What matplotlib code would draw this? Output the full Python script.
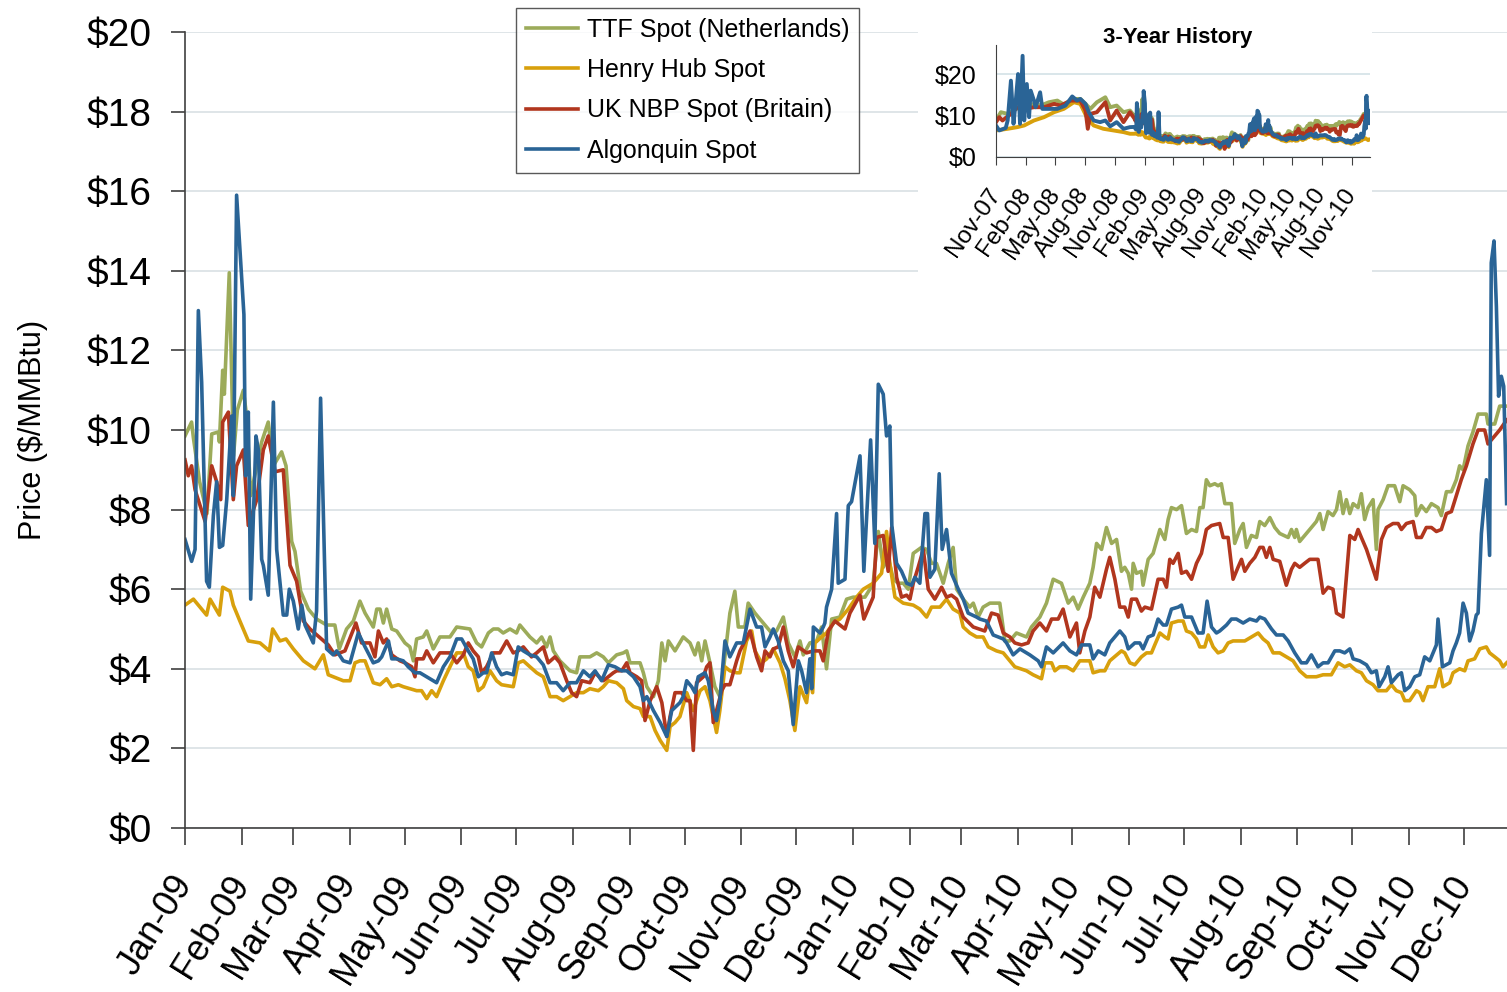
#natural gas spot prices, 2009-2010 with 3-year inset
import numpy as np
import matplotlib
matplotlib.use("Agg")
import matplotlib.pyplot as plt
import matplotlib.dates as mdates
from matplotlib.patches import Rectangle

plt.rcParams['font.family'] = ['Liberation Sans', 'DejaVu Sans']

# (days since 2009-01-01, $/MMBtu)
ttf_spot = [(0,9.85),(3.6,10.2),(4.6,9.8),(8,8.7),(12,7.9),(14.6,9.9),(18.2,9.95),(18.8,9.7),(20.6,11.5),(21.5,10.9),(24.2,13.95),(26.5,9.35),(28.6,10.5),(31.9,11.0),(33.7,10.35),(35.9,8.35),(41.9,9.7),(45.5,10.2),(48.3,9.1),(52.8,9.45),(55.2,9.1),(58.3,7.2),(60.1,6.95),(63.2,5.95),(67.4,5.5),(71.9,5.25),(77.4,5.1),(81.9,5.1),(84.3,4.5),(88.3,5.0),(92,5.2),(95.6,5.7),(98.4,5.4),(102.9,5.05),(104.8,5.5),(106.6,5.5),(108.4,5.15),(110.2,5.5),(113,5.0),(115.7,4.95),(120.2,4.65),(122.9,4.55),(124.8,4.2),(126.6,4.75),(130.2,4.8),(132.1,4.95),(135.7,4.5),(139.3,4.8),(144.8,4.8),(148.5,5.05),(155.7,5.0),(159.4,4.65),(162.1,4.55),(165.8,4.9),(168.5,5.0),(171.2,5.0),(173.9,4.9),(177.6,5.0),(181.2,4.9),(183,5.1),(188.5,4.8),(192.2,4.65),(194.9,4.8),(197.6,4.55),(199.5,4.8),(201.3,4.45),(204.9,4.2),(210.4,3.95),(214,3.9),(215.8,4.3),(221.3,4.3),(225,4.4),(228.6,4.3),(231.4,4.15),(235.9,4.35),(239.6,4.4),(241.4,4.45),(243.2,4.15),(248.7,4.15),(250.5,3.9),(252.4,3.55),(256,3.3),(258.7,3.7),(260.6,4.65),(262.4,4.2),(264.2,4.7),(267.8,4.45),(272.3,4.8),(276,4.65),(278.7,4.35),(280.5,4.65),(282.4,4.2),(284.2,4.7),(286.9,4.15),(289.6,3.55),(292.3,3.3),(294.2,3.95),(297.8,5.4),(300.5,5.95),(302.4,5.05),(306,5.05),(307.8,5.65),(311.5,5.4),(314.2,5.25),(317.9,5.05),(320.6,4.9),(323.3,4.95),(327,5.3),(329.7,4.65),(333.3,4.3),(336.1,4.7),(337.9,4.35),(341.5,4.65),(345.2,4.7),(347.9,5.05),(350.6,4.0),(353.4,5.25),(357.9,5.3),(361.6,5.75),(365.2,5.8),(371.6,5.8),(374.3,6.0),(376.1,6.15),(378.9,7.45),(381.6,6.55),(384.3,6.8),(387.1,6.25),(389.8,6.15),(392.5,6.15),(395.3,6.0),(398,6.9),(402.5,7.05),(405.3,7.0),(408,6.65),(410.7,6.65),(414.4,6.15),(417.1,6.65),(419.8,7.05),(421.7,6.0),(425.3,5.75),(428.9,5.55),(430.8,5.65),(433.5,5.3),(436.2,5.55),(439.9,5.65),(445.3,5.65),(448.1,4.7),(450.8,4.7),(454.4,4.9),(459.9,4.8),(462.6,5.05),(467.2,5.3),(470.8,5.65),(474.5,6.25),(479,6.15),(482.7,5.65),(485.4,5.8),(488.1,5.5),(490.9,5.8),(494.5,6.15),(496.3,6.55),(498.2,7.15),(500.9,7.0),(503.6,7.55),(506.4,7.15),(509.1,7.25),(511.8,6.45),(513.6,6.55),(515.5,6.4),(517.3,6.0),(518.2,6.65),(520,6.4),(522.7,6.45),(523.6,6.1),(526.4,6.75),(529.1,6.9),(532.8,7.5),(535.5,7.25),(537.3,7.75),(539.1,8.05),(541.9,8.0),(544.6,8.1),(547.3,7.4),(550.1,7.5),(552.8,7.45),(554.6,8.05),(556.4,8.05),(558.2,8.75),(560.1,8.6),(562.8,8.65),(564.6,8.6),(566.4,8.65),(568.3,8.15),(571.9,8.15),(573.7,7.15),(576.5,7.5),(578.3,7.65),(580.1,7.05),(582.8,7.35),(585.6,7.3),(587.4,7.7),(590.1,7.6),(592.9,7.8),(595.6,7.55),(598.3,7.4),(602.9,7.3),(604.7,7.5),(606.5,7.3),(607.4,7.5),(609.2,7.2),(612.9,7.4),(615.6,7.55),(618.3,7.7),(620.2,7.9),(622,7.5),(624.7,7.95),(627.4,7.85),(629.3,8.0),(631.1,8.45),(632.9,7.9),(634.7,8.25),(636.6,7.9),(638.4,8.15),(641.1,8.05),(642.9,8.4),(644.7,7.75),(646.6,8.05),(649.3,8.25),(651.1,7.0),(652,8.0),(654.8,8.25),(657.5,8.6),(661.1,8.6),(663.9,8.2),(665.7,8.6),(669.3,8.5),(672.1,8.35),(673,7.85),(675.7,8.1),(678.4,7.95),(681.2,8.15),(684.8,8.05),(686.6,7.85),(689.4,8.45),(692.1,8.45),(694.8,8.75),(696.6,9.1),(698.5,9.0),(701.2,9.6),(703.9,9.95),(706.7,10.4),(711.2,10.4),(712.1,10.15),(715.8,10.15),(718.5,10.6),(722.3,10.6)]

henry_hub = [(0,5.6),(4.6,5.75),(11.8,5.35),(13.7,5.75),(18.8,5.35),(20.6,6.05),(24.6,5.95),(26.4,5.6),(30,5.2),(34.6,4.7),(41,4.65),(46.1,4.45),(47.9,5.0),(51.9,4.7),(55.2,4.75),(59.2,4.5),(64.7,4.2),(71,4.0),(75.6,4.35),(78.3,3.85),(86.5,3.7),(90.2,3.7),(92.9,4.15),(95.6,4.2),(98.4,4.2),(102.9,3.65),(106.6,3.6),(110.2,3.75),(113,3.55),(116.6,3.6),(119.3,3.55),(122.9,3.5),(126.6,3.45),(129.3,3.45),(132.1,3.25),(134.8,3.45),(137.5,3.3),(141.2,3.7),(144.8,4.05),(148.5,4.4),(152.1,4.4),(154.8,4.05),(157.5,3.95),(160.3,3.45),(163,3.55),(166.7,3.95),(170.3,3.7),(173,3.6),(179.4,3.55),(182.1,4.15),(184.9,4.2),(188.5,4.05),(192.2,3.9),(195.8,3.8),(199.5,3.3),(203.1,3.3),(206.7,3.2),(210.4,3.3),(214,3.4),(217.7,3.4),(221.3,3.5),(225.9,3.45),(228.6,3.55),(231.4,3.7),(235.9,3.65),(239.6,3.5),(241.4,3.2),(245.1,3.05),(248.7,3.0),(250.5,2.8),(254.2,2.8),(256.9,2.45),(259.7,2.2),(263.3,1.95),(265.1,2.55),(267.8,2.65),(270.5,2.8),(274.2,3.4),(277.8,2.95),(279.6,3.2),(281.5,3.45),(284.2,3.55),(286.9,3.2),(288.7,2.8),(290.5,2.4),(292.3,2.95),(295.1,4.05),(297.8,3.95),(301.5,3.9),(303.3,3.9),(306.9,4.7),(309.7,4.95),(311.5,4.45),(315.1,4.15),(317.9,4.25),(321.5,4.5),(325.2,4.15),(327.9,3.75),(330.6,3.2),(333.3,2.45),(336.1,3.55),(339.7,3.15),(341.5,3.85),(343,3.4),(344.3,4.65),(347.9,4.8),(350.6,4.9),(354.3,5.15),(357.9,5.25),(362.5,5.5),(367,5.8),(370.7,6.0),(376.1,6.15),(380.7,6.4),(383.4,7.45),(385.2,6.65),(388,5.8),(392.5,5.65),(398,5.6),(401.6,5.5),(405.3,5.3),(408,5.55),(412.6,5.55),(416.2,5.75),(419.8,5.5),(423.5,5.4),(425.3,5.05),(428.9,4.9),(432.6,4.8),(436.2,4.8),(439,4.55),(443.5,4.45),(447.2,4.4),(450.8,4.2),(453.5,4.05),(459.9,3.95),(463.5,3.85),(468.1,3.75),(469.9,4.15),(473.6,4.15),(475.4,3.95),(478.1,4.05),(481.8,4.05),(485.4,3.95),(489,4.2),(494.5,4.2),(496.3,3.9),(500,3.95),(502.7,3.95),(505.4,4.2),(511.8,4.45),(513.6,4.4),(516.4,4.15),(519.1,4.1),(522.7,4.3),(525.5,4.4),(528.2,4.4),(530,4.6),(532.8,4.9),(535.5,4.8),(537.3,4.75),(539.1,5.15),(542.8,5.2),(545.5,5.2),(547.3,4.95),(550.1,4.9),(552.8,4.75),(554.6,4.55),(557.3,4.55),(559.2,4.85),(561.9,4.55),(564.6,4.4),(567.4,4.45),(570.1,4.65),(572.8,4.7),(575.5,4.7),(579.2,4.7),(582.8,4.8),(586.5,4.9),(589.2,4.75),(591.9,4.65),(594.7,4.4),(598.3,4.4),(601.9,4.3),(605.6,4.2),(609.2,3.95),(612.9,3.8),(618.3,3.8),(622,3.85),(626.5,3.85),(630.2,4.15),(633.8,4.05),(636.6,4.1),(640.2,3.95),(642.9,3.9),(645.7,3.7),(649.3,3.6),(652,3.45),(656.6,3.45),(659.3,3.6),(662,3.45),(664.8,3.4),(666.6,3.2),(669.3,3.2),(673,3.45),(674.8,3.4),(676.6,3.2),(679.3,3.55),(683,3.55),(685.7,4.0),(687.5,3.55),(691.2,3.65),(693,3.9),(696.6,4.0),(699.4,3.95),(701.2,4.2),(704.8,4.25),(707.6,4.5),(711.2,4.55),(713,4.4),(715.8,4.3),(718.5,4.2),(720.3,4.05),(722.3,4.15)]

uk_nbp = [(0,9.25),(1.8,8.85),(3.6,9.1),(5.5,8.5),(11,7.7),(14.6,9.1),(17.3,8.7),(19.5,8.25),(20.6,10.2),(23.7,10.45),(26.4,8.25),(28.2,9.1),(31.9,9.5),(34.6,7.6),(39.2,8.25),(42.8,9.5),(45.5,9.85),(49.2,8.95),(53.7,9.0),(57.4,6.6),(61,6.2),(64.7,5.2),(68.3,5.0),(78.3,4.6),(81.9,4.35),(87.4,4.45),(93.4,5.15),(96.5,4.65),(101.1,4.65),(103.8,4.3),(105.7,4.95),(108.4,4.65),(110.2,4.75),(113,4.35),(117.5,4.2),(120.2,4.15),(123.9,4.05),(125.7,3.8),(126.6,4.25),(130.2,4.25),(132.1,4.45),(135.7,4.15),(139.3,4.4),(144.8,4.4),(148.5,4.15),(152.1,4.35),(154.8,4.65),(157.5,4.45),(160.3,4.3),(162.1,3.9),(164.8,4.05),(168.5,4.4),(172.1,4.4),(175.8,4.7),(179.4,4.4),(182.1,4.45),(184.9,4.55),(189.4,4.3),(192.2,4.4),(195.8,4.55),(198.5,4.15),(202.2,4.3),(204.9,4.15),(208.6,3.7),(211.3,3.4),(214,3.3),(216.8,3.7),(221.3,3.65),(224.1,3.9),(228.6,3.7),(234.1,3.9),(235.9,3.95),(238.7,3.95),(241.4,4.15),(243.2,3.9),(246.9,3.8),(249.6,3.7),(251.4,2.7),(254.2,3.2),(257.8,3.55),(260.6,3.15),(263.3,2.3),(265.1,2.8),(267.8,3.4),(271.4,3.4),(274.2,3.2),(276,3.2),(277.8,1.95),(279.6,3.65),(283.3,3.8),(285.1,4.05),(286.9,4.15),(288.7,2.65),(290.5,2.95),(293.3,3.45),(295.1,3.6),(297.8,3.6),(301.5,4.2),(303.3,4.45),(308.8,4.95),(312.4,4.3),(315.1,3.95),(317,4.45),(319.7,4.3),(321.5,4.5),(324.2,4.55),(327,5.05),(329.7,4.45),(332.4,4.05),(335.2,4.55),(339.7,4.4),(343.4,4.45),(347,4.45),(348.8,4.2),(351.6,4.95),(355.2,5.2),(360.7,5.0),(363.4,5.4),(368.9,5.85),(371,5.25),(376.1,5.8),(378,7.3),(381.6,7.35),(384.3,6.45),(386.2,7.55),(388.9,6.3),(391.6,5.8),(394.4,5.85),(396.2,5.75),(398,6.15),(400.7,6.55),(403.5,7.0),(406.2,6.0),(409.8,5.75),(413.5,6.05),(416.2,5.8),(418.9,5.85),(421.7,5.75),(425.3,5.3),(430.8,5.05),(437.1,4.95),(440.8,5.4),(444.4,5.35),(447.2,4.9),(450.8,4.8),(453.5,4.65),(457.2,4.6),(460.8,4.65),(463.5,4.95),(467.2,5.15),(470.8,4.95),(473.6,5.25),(477.2,5.25),(479.9,5.5),(483.6,4.8),(487.2,5.15),(489,4.4),(491.8,4.95),(494.5,5.3),(497.2,6.05),(500,5.8),(503.6,6.5),(505.4,6.8),(508.2,6.25),(510.9,5.55),(513.6,5.55),(515.5,5.3),(517.3,5.75),(520,5.75),(522.7,5.45),(524.6,5.55),(528.2,5.5),(531.8,6.25),(534.6,6.25),(536.4,6.05),(538.2,6.75),(540,6.65),(542.8,6.9),(544.6,6.4),(547.3,6.45),(550.1,6.25),(552.8,6.65),(555.5,6.9),(558.2,7.5),(561,7.6),(565.5,7.65),(567.4,7.3),(570.1,7.3),(572.8,6.25),(575.5,6.55),(577.4,6.75),(579.2,6.45),(581.9,6.65),(584.7,6.8),(587.4,7.05),(589.2,7.05),(591,6.8),(592.9,7.05),(594.7,6.75),(598.3,6.7),(601.9,6.1),(604.7,6.5),(606.5,6.65),(609.2,6.55),(611.9,6.65),(614.7,6.75),(619.2,6.75),(622,5.9),(624.7,6.05),(627.4,6.0),(629.3,5.4),(632.9,5.3),(636.6,7.35),(639.3,7.25),(641.1,7.5),(642.9,7.3),(645.7,7.0),(649.3,6.5),(651.1,6.25),(653.9,7.25),(656.6,7.55),(660.2,7.65),(663,7.65),(664.8,7.5),(667.5,7.65),(671.2,7.7),(673,7.3),(675.7,7.3),(678.4,7.55),(681.2,7.55),(683.9,7.45),(686.6,7.5),(689.4,7.9),(692.1,7.95),(694.8,8.35),(697.5,8.75),(700.3,9.1),(703.9,9.65),(706.7,10.0),(710.3,10.0),(712.1,9.65),(715.8,9.85),(718.5,10.0),(722.3,10.25)]

algonquin = [(0,7.25),(3.6,6.7),(5.5,7.0),(7.3,13.0),(9.1,11.2),(11.8,6.2),(13.3,6.05),(15.5,7.85),(17.3,8.7),(18.8,7.05),(20.6,7.1),(22.8,8.25),(25.5,10.35),(26.4,8.35),(28.2,15.9),(32.2,12.9),(33.1,8.85),(34.6,10.45),(35.9,5.75),(38.8,9.85),(40.1,9.5),(41.9,6.75),(42.8,6.6),(45.5,5.85),(48.3,10.7),(50.1,7.0),(53.7,5.35),(55.6,5.35),(57,6.0),(59.2,5.7),(61.9,5.0),(63.8,5.6),(65.6,5.1),(70.1,4.65),(71.9,5.45),(74.1,10.8),(77.4,4.5),(81,4.35),(82.9,4.45),(86.5,4.2),(90.2,4.15),(94.7,4.9),(98.4,4.55),(102.9,4.15),(105.7,4.2),(107.5,4.3),(111.2,4.7),(113,4.25),(115.7,4.25),(119.3,4.2),(122,4.05),(125.7,3.9),(128.4,3.9),(133.9,3.75),(137.5,3.65),(141.2,4.05),(144.8,4.3),(148.5,4.75),(151.2,4.75),(154.8,4.45),(157.5,4.25),(160.3,3.8),(163,3.9),(164.8,3.9),(167.6,4.4),(170.3,4.05),(173,3.85),(175.8,3.9),(179.4,3.85),(182.1,4.55),(184.9,4.45),(188.5,4.35),(192.2,4.3),(195.8,4.1),(199.5,3.65),(203.1,3.65),(206.7,3.45),(210.4,3.65),(214,3.65),(217.7,3.95),(221.3,3.8),(224.1,3.95),(227.7,3.7),(231.4,4.1),(235,4.05),(238.7,3.95),(241.4,3.95),(245.1,3.8),(248.7,3.55),(250.5,3.2),(252.4,3.3),(256,2.95),(259.7,2.65),(263.3,2.3),(266,2.95),(270.5,3.15),(272.3,3.3),(274.2,3.7),(276.9,3.55),(278.7,3.4),(280.5,3.8),(284.2,3.9),(286,3.7),(288.7,2.95),(290.5,2.7),(292.3,3.2),(295.1,4.7),(297.8,4.3),(301.5,4.65),(305.1,4.65),(308.8,5.5),(312.4,5.05),(315.1,5.05),(317,4.55),(319.7,4.8),(321.5,5.0),(324.2,4.7),(327,4.2),(329.7,3.95),(332.4,2.6),(335.2,4.2),(337,3.95),(339.7,3.4),(341.5,4.25),(342.5,3.5),(343.4,5.05),(347,4.9),(348.8,5.05),(349.7,5.15),(350.6,5.55),(353.4,6.0),(356.1,7.9),(357,6.15),(360.7,6.25),(362.5,8.1),(364.3,8.2),(368.9,9.35),(371,6.45),(374.7,9.75),(377,7.15),(378.9,11.15),(381.6,10.9),(383.4,9.85),(385.2,10.1),(386.3,7.6),(388.9,6.65),(391.6,6.45),(394.4,6.15),(397.1,6.1),(398.9,6.3),(401.6,6.15),(404.4,7.9),(405.8,7.9),(407.1,6.3),(409.8,6.5),(412.2,8.9),(413.8,7.0),(416.2,7.5),(418.9,6.4),(422.6,6.0),(425.3,5.75),(428,5.4),(432.6,5.3),(434.4,5.25),(438,5.2),(441.7,4.85),(447.2,4.75),(449,4.65),(452.6,4.35),(456.3,4.5),(461.7,4.35),(466.3,4.2),(468.1,4.05),(470.8,4.55),(474.5,4.4),(479.9,4.65),(483.6,4.45),(487.2,4.35),(490,4.6),(494.5,4.6),(496.3,4.25),(499.1,4.45),(502.7,4.35),(505.4,4.65),(510.9,4.95),(513.6,4.8),(515.5,4.5),(519.1,4.65),(521.8,4.65),(523.6,4.5),(526.4,4.8),(529.1,4.85),(531.8,5.25),(534.6,5.1),(536.4,5.1),(539.1,5.5),(542.8,5.55),(544.6,5.6),(546.4,5.3),(550.1,5.3),(553.7,4.9),(556.4,4.9),(558.6,5.7),(561,5.05),(563.7,4.9),(565.5,4.95),(569.2,5.1),(571.9,5.25),(574.6,5.25),(578.3,5.15),(581.9,5.25),(585.6,5.2),(587.4,5.3),(590.1,5.25),(593.8,5.0),(596.5,4.85),(600.2,4.85),(602.9,4.7),(606.5,4.4),(610.1,4.15),(612.9,4.15),(615.6,4.35),(619.2,4.05),(622,4.15),(624.7,4.15),(628.4,4.45),(631.1,4.45),(633.8,4.4),(636.6,4.5),(638.4,4.25),(642,4.2),(645.7,4.1),(648.4,3.9),(651.1,3.95),(652.6,3.55),(655.7,3.8),(657.5,4.05),(659.3,3.65),(663,3.85),(664.8,3.9),(666.6,3.45),(669.3,3.55),(672.1,3.8),(674.8,3.85),(677.5,4.3),(680.3,4.2),(683.9,4.6),(684.8,5.25),(687.2,4.05),(691.2,4.15),(693,4.45),(694.8,4.65),(696.6,4.9),(698.5,5.65),(700.3,5.4),(702.1,4.7),(703.9,4.95),(705.7,5.35),(706.7,5.4),(708.5,7.4),(711.2,8.75),(713,6.85),(713.9,14.2),(715.4,14.75),(716.7,13.1),(717.9,10.85),(719.4,11.35),(720.7,11.1),(722.3,8.15)]

# inset extra history, (days since 2007-11-01, $/MMBtu), Nov-07 .. Dec-08
ttf_0708 = [(0,8.8),(15,10.8),(36,10.4),(61,11.6),(87,12.0),(117,12.8),(138,12.4),(163,13.2),(189,13.6),(214,12.4),(240,14.0),(260,14.0),(276,12.8),(291,11.6),(311,13.2),(337,14.4),(352,12.0),(372,12.4),(393,10.8),(413,11.2)]
hh_0708 = [(0,6.4),(36,6.8),(66,7.2),(87,7.6),(117,8.8),(148,9.6),(179,10.8),(209,11.6),(240,13.2),(260,12.8),(280,9.6),(301,7.6),(331,6.8),(362,6.4),(393,6.0),(413,5.6)]
nbp_0708 = [(0,8.4),(10,9.6),(20,8.8),(46,10.4),(66,12.0),(87,11.6),(117,12.0),(148,12.0),(179,12.8),(199,12.4),(230,13.6),(260,13.6),(276,11.2),(283,6.8),(291,10.4),(311,10.8),(337,13.2),(352,8.8),(372,11.2),(393,8.4),(413,10.8)]
alg_0708 = [(0,7.6),(10,6.4),(30,7.0),(36,8.8),(46,18.4),(54,8.0),(61,13.6),(68,20.0),(74,8.0),(82,24.4),(87,8.8),(95,17.6),(102,9.6),(107,16.0),(117,13.6),(122,12.0),(136,15.6),(143,11.6),(163,11.6),(189,11.6),(214,12.4),(235,14.6),(250,13.6),(260,14.0),(276,12.8),(286,10.8),(301,8.8),(321,8.4),(337,8.8),(352,7.4),(372,8.4),(393,6.8),(413,7.2)]

names = ["TTF Spot (Netherlands)", "Henry Hub Spot", "UK NBP Spot (Britain)", "Algonquin Spot"]
colors = ["#9cab5a", "#d8a00c", "#b1361e", "#2a6496"]


def to_dates(start, pts):
    d = np.array([p[0] for p in pts])
    v = np.array([p[1] for p in pts])
    t = np.datetime64(start, 'm') + np.round(d * 1440).astype('timedelta64[m]')
    return t, v


fig = plt.figure(figsize=(15.07, 9.92), dpi=100)
ax = fig.add_axes([185/1507, 164/992, 1322/1507, 796/992])

for pts, name, c in zip([ttf_spot, henry_hub, uk_nbp, algonquin], names, colors):
    t, v = to_dates('2009-01-01', pts)
    ax.plot(t, v, color=c, lw=2.6, label=name, solid_joinstyle='round')

ax.set_xlim(np.datetime64('2009-01-01'), np.datetime64('2010-12-24T12:00'))
ax.set_ylim(0, 20)
ax.set_yticks(np.arange(0, 21, 2))
ax.set_yticklabels([f"${v}" for v in range(0, 21, 2)])
ax.xaxis.set_major_locator(mdates.MonthLocator())
ax.xaxis.set_major_formatter(mdates.DateFormatter('%b-%y'))
ax.grid(axis='y', color='#dce3e6', lw=1.3)
ax.set_axisbelow(True)
for s in ['top', 'right']:
    ax.spines[s].set_visible(False)
for s in ['left', 'bottom']:
    ax.spines[s].set_color('#404040')
    ax.spines[s].set_linewidth(1.2)
ax.tick_params(axis='y', labelsize=28, length=10, width=1.2, color='#404040', pad=14)
ax.tick_params(axis='x', labelsize=26, length=12, width=1.2, color='#404040', pad=24)
plt.setp(ax.get_xticklabels(), rotation=58, ha='right', va='center', rotation_mode='anchor')
ax.set_ylabel("Price ($/MMBtu)", fontsize=22, labelpad=28)

leg = ax.legend(loc='upper left', bbox_to_anchor=(516/1507, 1 - 8/992), bbox_transform=fig.transFigure,
                fontsize=18, frameon=True, fancybox=False, edgecolor='#303030', borderpad=0.38,
                handlelength=2.1, handletextpad=0.35, labelspacing=0.66, borderaxespad=0)
leg.get_frame().set_linewidth(1.0)

# white patch behind the inset
fig.add_artist(Rectangle((918/1507, 1 - 275/992), 454/1507, 275/992, transform=fig.transFigure,
                         facecolor='white', edgecolor='none', zorder=2))

ins = fig.add_axes([996/1507, 1 - 157/992, 374/1507, 112/992], zorder=3)
ins.patch.set_alpha(0)
for i, (old, pts) in enumerate(zip([ttf_0708, hh_0708, nbp_0708, alg_0708],
                                   [ttf_spot, henry_hub, uk_nbp, algonquin])):
    t0, v0 = to_dates('2007-11-01', old)
    t1, v1 = to_dates('2009-01-01', pts)
    ins.plot(np.concatenate([t0, t1]), np.concatenate([v0, v1]), color=colors[i], lw=2.8)

ins.set_xlim(np.datetime64('2007-11-01'), np.datetime64('2010-12-28'))
ins.set_ylim(0, 27)
ins.set_yticks([0, 10, 20])
ins.set_yticklabels(["$0", "$10", "$20"])
ins.xaxis.set_major_locator(mdates.MonthLocator(bymonth=[2, 5, 8, 11]))
ins.xaxis.set_major_formatter(mdates.DateFormatter('%b-%y'))
ins.grid(axis='y', color='#d3e2e6', lw=1.2)
ins.set_axisbelow(True)
for s in ['top', 'right']:
    ins.spines[s].set_visible(False)
for s in ['left', 'bottom']:
    ins.spines[s].set_color('#404040')
ins.tick_params(axis='y', labelsize=18, length=0, pad=14)
ins.tick_params(axis='x', labelsize=17.5, length=6, color='#404040', pad=18)
plt.setp(ins.get_xticklabels(), rotation=55, ha='right', va='center', rotation_mode='anchor')
fig.text(1178/1507, 1 - 37/992, "3-Year History", ha='center', va='center', fontsize=16, fontweight='bold')

fig.savefig("out.png", dpi=100)
